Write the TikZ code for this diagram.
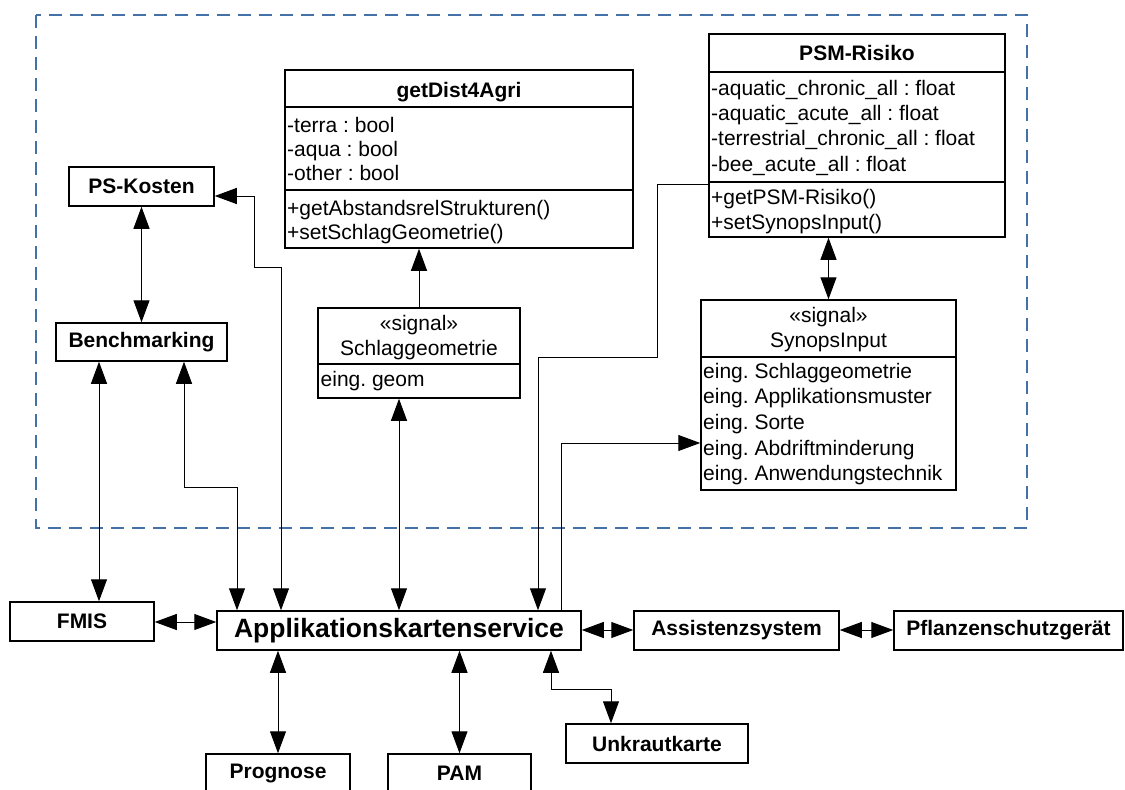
\documentclass[tikz,border=0pt]{standalone}
\usepackage{fontspec}
\setmainfont{Liberation Sans}
\usetikzlibrary{arrows.meta}
\frenchspacing
\definecolor{frameblue}{RGB}{68,114,168}
\tikzset{
  box/.style={draw=black, line width=1.5pt, fill=white, inner sep=0pt, font=\fontsize{21}{25}\selectfont\bfseries},
  cls/.style={draw=black, line width=1.5pt, fill=white, inner sep=0pt},
  divider/.style={draw=black, line width=1.5pt},
  txt/.style={anchor=base west, inner sep=0pt, font=\fontsize{21}{25}\selectfont},
  ctxt/.style={anchor=base, inner sep=0pt, font=\fontsize{21}{25}\selectfont},
  conn/.style={draw=black, line width=1pt},
  dbl/.style={conn, {Triangle[length=22pt,width=16pt]}-{Triangle[length=22pt,width=16pt]}},
  sgl/.style={conn, -{Triangle[length=22pt,width=16pt]}},
  grpframe/.style={draw=frameblue, line width=2pt, dash pattern=on 13pt off 8pt}
}
\begin{document}
\begin{tikzpicture}[x=1pt,y=-1pt]
\fill[white] (0,0) rectangle (1125,790);
\useasboundingbox (0,0) rectangle (1125,790);
\clip (0,0) rectangle (1125,790);

% dashed group frame
\draw[grpframe] (36,15) rectangle (1027,528);

% simple boxes
\node[box, minimum width=145, minimum height=39] (pskosten) at (141.5,186.5) {PS-Kosten};
\node[box, minimum width=171, minimum height=38] (bench) at (141.5,342) {Benchmarking};
\node[box, minimum width=144, minimum height=39] (fmis) at (82,621.5) {FMIS};
\node[box, minimum width=364, minimum height=39, font=\fontsize{26.5}{30}\selectfont\bfseries] (app) at (399,630.5) {Applikationskartenservice};
\node[box, minimum width=205, minimum height=39] (assist) at (736.5,630.5) {Assistenzsystem};
\node[box, minimum width=229, minimum height=39] (pflanz) at (1008.5,630.5) {Pflanzenschutzgerät};
\node[box, minimum width=182, minimum height=39] (unkraut) at (657,743.5) {Unkrautkarte};
\node[box, minimum width=144, minimum height=39] (prognose) at (278,773.5) {Prognose};
\node[box, minimum width=143, minimum height=39] (pam) at (459.5,773.5) {PAM};

% class getDist4Agri
\node[cls, minimum width=348, minimum height=178] (getdist) at (459,159) {};
\draw[divider] (285,107) -- (633,107);
\draw[divider] (285,190) -- (633,190);
\node[ctxt, font=\fontsize{21}{25}\selectfont\bfseries] (gdT) at (459,97) {getDist4Agri};
\node[txt] (gdA1) at (287,132) {-terra : bool};
\node[txt] (gdA2) at (287,156) {-aqua : bool};
\node[txt] (gdA3) at (287,180) {-other : bool};
\node[txt] (gdM1) at (287,215) {+getAbstandsrelStrukturen()};
\node[txt] (gdM2) at (287,239) {+setSchlagGeometrie()};

% class PSM-Risiko
\node[cls, minimum width=296, minimum height=203] (psm) at (857,135.5) {};
\draw[divider] (709,72) -- (1005,72);
\draw[divider] (709,182) -- (1005,182);
\node[ctxt, font=\fontsize{21}{25}\selectfont\bfseries] (psmT) at (857,60) {PSM-Risiko};
\node[txt] (psmA1) at (711,95) {-aquatic\_chronic\_all : float};
\node[txt] (psmA2) at (711,120) {-aquatic\_acute\_all : float};
\node[txt] (psmA3) at (711,145.5) {-terrestrial\_chronic\_all : float};
\node[txt] (psmA4) at (711,171) {-bee\_acute\_all : float};
\node[txt] (psmM1) at (711,204) {+getPSM-Risiko()};
\node[txt] (psmM2) at (711,229) {+setSynopsInput()};

% signal SynopsInput
\node[cls, minimum width=255, minimum height=190] (synops) at (828.5,395) {};
\draw[divider] (701,357) -- (956,357);
\node[ctxt] (synS) at (828.5,322) {«signal»};
\node[ctxt] (synT) at (828.5,347) {SynopsInput};
\node[txt] (synA1) at (703,378) {eing. Schlaggeometrie};
\node[txt] (synA2) at (703,403.5) {eing. Applikationsmuster};
\node[txt] (synA3) at (703,429) {eing. Sorte};
\node[txt] (synA4) at (703,455) {eing. Abdriftminderung};
\node[txt] (synA5) at (703,480) {eing. Anwendungstechnik};

% signal Schlaggeometrie
\node[cls, minimum width=202, minimum height=90] (schlag) at (419,353) {};
\draw[divider] (318,364) -- (520,364);
\node[ctxt] (schS) at (419,330) {«signal»};
\node[ctxt] (schT) at (419,355) {Schlaggeometrie};
\node[txt] (schA1) at (320.5,386) {eing. geom};

% helper coordinates
\coordinate (a1) at (281,267);
\coordinate (a2) at (254,267);
\coordinate (a3) at (254,196);
\coordinate (f1) at (99,0);
\coordinate (b1) at (184,487);
\coordinate (b2) at (237,487);
\coordinate (s1) at (399,0);
\coordinate (p1) at (657,184);
\coordinate (p2) at (657,357);
\coordinate (p3) at (538,357);
\coordinate (q1) at (561,443);
\coordinate (r1) at (0,622);
\coordinate (r2) at (0,630);
\coordinate (u1) at (551,689);
\coordinate (u2) at (611,689);

% connectors
\draw[dbl] (pskosten.south) -- (bench.north);
\draw[dbl] (app.north -| a1) -- (a1) -- (a2) -- (a3) -- (pskosten.east |- a3);
\draw[dbl] (bench.south -| f1) -- (fmis.north -| f1);
\draw[dbl] (bench.south -| b1) -- (b1) -- (b2) -- (app.north -| b2);
\draw[dbl] (schlag.south -| s1) -- (app.north -| s1);
\draw[sgl] (schlag.north) -- (getdist.south -| schlag.north);
\draw[sgl] (psm.west |- p1) -- (p1) -- (p2) -- (p3) -- (app.north -| p3);
\draw[sgl] (app.north -| q1) -- (q1) -- (synops.west |- q1);
\draw[dbl] (psm.south -| synops.north) -- (synops.north);
\draw[dbl] (fmis.east |- r1) -- (app.west |- r1);
\draw[dbl] (app.east |- r2) -- (assist.west |- r2);
\draw[dbl] (assist.east |- r2) -- (pflanz.west |- r2);
\draw[dbl] (app.south -| prognose.north) -- (prognose.north);
\draw[dbl] (app.south -| pam.north) -- (pam.north);
\draw[dbl] (app.south -| u1) -- (u1) -- (u2) -- (unkraut.north -| u2);
\end{tikzpicture}
\end{document}
